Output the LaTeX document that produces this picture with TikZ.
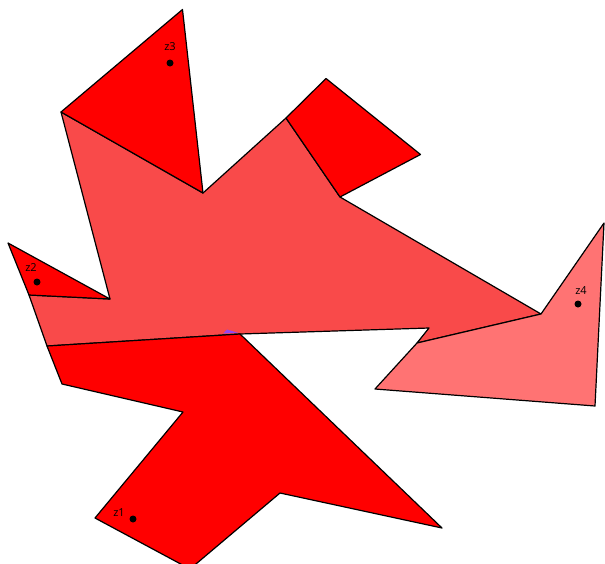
\documentclass[tikz,border=0pt]{standalone}
\usepackage{fontspec}
\setmainfont{Open Sans}
\definecolor{redA}{RGB}{255,0,0}
\definecolor{pinkA}{RGB}{249,74,74}
\definecolor{pinkB}{RGB}{255,115,115}
\definecolor{violetA}{RGB}{150,70,240}
\begin{document}
\begin{tikzpicture}[x=1pt,y=-1pt,
  polyface/.style={draw=black, line width=1.2pt, line join=round},
  lbl/.style={inner sep=0pt, font=\fontsize{11}{13}\selectfont},
  dotmark/.style={circle, fill=black, inner sep=0pt, minimum size=7pt}]
\useasboundingbox (0,0) rectangle (605,563);
% big pink polygon
\filldraw[polyface, fill=pinkA] (61,112) -- (203,193) -- (286,118) -- (340,197) -- (541,314)
  -- (417,343) -- (429,328) -- (240,334) -- (47,346) -- (29,295) -- (110,299) -- cycle;
% triangle z3
\filldraw[polyface, fill=redA] (61,112) -- (182.5,9.5) -- (203,193) -- cycle;
% quadrilateral top right
\filldraw[polyface, fill=redA] (286,118) -- (326,78.5) -- (420.5,154.5) -- (340,197) -- cycle;
% triangle z2
\filldraw[polyface, fill=redA] (8,243) -- (110,299) -- (29,295) -- cycle;
% polygon z1
\filldraw[polyface, fill=redA] (47,346) -- (240,334) -- (442,528) -- (280,493) -- (190,569)
  -- (95,518) -- (183,412) -- (62,384) -- cycle;
% polygon z4
\filldraw[polyface, fill=pinkB] (541,314) -- (604,223) -- (595,406) -- (375,389) -- (417,343) -- cycle;
% small violet spot
\fill[violetA] (223,333.5) -- (227,329.5) -- (238,332.8) -- cycle;
% labels and points
\node[lbl] (t1) at (119,513) {z1};
\node[dotmark] (p1) at (133,519) {};
\node[lbl] (t2) at (31,268) {z2};
\node[dotmark] (p2) at (37,282) {};
\node[lbl] (t3) at (170,47) {z3};
\node[dotmark] (p3) at (170,63) {};
\node[lbl] (t4) at (581,291) {z4};
\node[dotmark] (p4) at (578,304) {};
\end{tikzpicture}
\end{document}
